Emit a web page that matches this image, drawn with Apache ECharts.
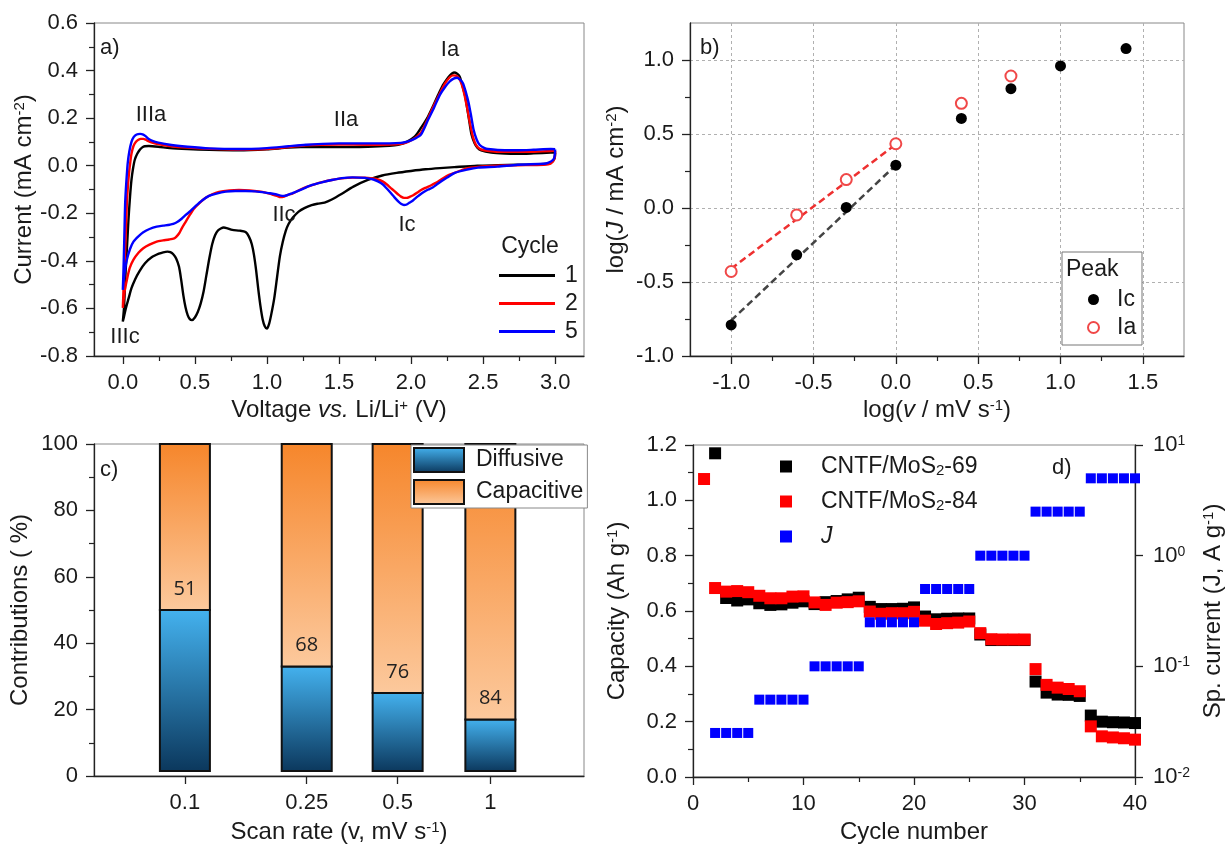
<!DOCTYPE html>
<html><head><meta charset="utf-8">
<script src="https://cdn.jsdelivr.net/npm/echarts@6/dist/echarts.min.js"></script>
<style>html,body{margin:0;padding:0;background:#fff}#c{width:1226px;height:845px}</style>
</head><body><div id="c"></div>
<script>
// ---------- Panel a: cyclic voltammograms (cathodic 3.0 -> 0 V, then anodic 0 -> 3.0 V) ----------
const cyc1V = [3.0,2.995,2.97,2.9,2.74,2.6,2.46,2.3,2.2,2.1,2.0,1.9,1.8,1.7,1.6,1.52,1.45,1.4,1.35,1.31,1.26,1.22,1.18,1.15,1.13,1.11,1.09,1.07,1.05,1.03,1.015,1.0,0.985,0.97,0.955,0.94,0.925,0.91,0.895,0.875,0.852,0.81,0.76,0.72,0.7,0.68,0.66,0.64,0.62,0.6,0.58,0.56,0.54,0.52,0.5,0.48,0.465,0.45,0.435,0.42,0.405,0.39,0.37,0.35,0.33,0.31,0.28,0.25,0.2,0.154,0.116,0.085,0.06,0.04,0.02,0.006,0.0,
  0.008,0.014,0.02,0.03,0.039,0.05,0.06,0.07,0.083,0.1,0.118,0.135,0.152,0.18,0.246,0.326,0.45,0.6,0.8,1.0,1.15,1.3,1.5,1.7,1.85,1.91,1.97,2.027,2.07,2.118,2.16,2.188,2.22,2.245,2.27,2.298,2.32,2.337,2.355,2.376,2.39,2.406,2.42,2.44,2.46,2.487,2.556,2.65,2.74,2.85,2.97,3.0];
const cyc1I = [0.055,0.03,0.012,0.006,0.004,0.002,0.0,-0.006,-0.01,-0.015,-0.022,-0.03,-0.041,-0.06,-0.088,-0.118,-0.142,-0.155,-0.16,-0.166,-0.178,-0.193,-0.218,-0.245,-0.275,-0.32,-0.38,-0.47,-0.56,-0.625,-0.665,-0.685,-0.675,-0.645,-0.59,-0.52,-0.44,-0.375,-0.33,-0.298,-0.279,-0.273,-0.27,-0.262,-0.26,-0.264,-0.272,-0.292,-0.33,-0.39,-0.46,-0.53,-0.58,-0.615,-0.638,-0.649,-0.645,-0.628,-0.595,-0.545,-0.48,-0.425,-0.39,-0.372,-0.363,-0.361,-0.364,-0.37,-0.385,-0.41,-0.443,-0.478,-0.515,-0.558,-0.602,-0.64,-0.655,
  -0.6,-0.52,-0.438,-0.33,-0.228,-0.13,-0.06,-0.015,0.025,0.05,0.067,0.077,0.082,0.083,0.08,0.074,0.07,0.067,0.065,0.069,0.076,0.079,0.078,0.08,0.084,0.088,0.1,0.123,0.16,0.207,0.26,0.298,0.338,0.361,0.38,0.392,0.387,0.375,0.34,0.291,0.24,0.179,0.13,0.095,0.076,0.064,0.055,0.051,0.05,0.052,0.055,0.056];

const cyc2V = [3.0,2.995,2.97,2.92,2.74,2.6,2.464,2.38,2.303,2.25,2.188,2.137,2.1,2.07,2.044,2.015,1.99,1.97,1.951,1.93,1.911,1.885,1.858,1.83,1.805,1.77,1.739,1.68,1.594,1.52,1.45,1.39,1.335,1.27,1.222,1.18,1.14,1.113,1.094,1.07,1.036,0.99,0.944,0.88,0.806,0.74,0.667,0.62,0.575,0.535,0.495,0.465,0.437,0.41,0.391,0.372,0.357,0.322,0.28,0.235,0.185,0.142,0.11,0.074,0.048,0.028,0.012,0.0,
  0.006,0.012,0.016,0.022,0.028,0.036,0.044,0.051,0.06,0.074,0.09,0.108,0.125,0.142,0.16,0.177,0.21,0.246,0.326,0.45,0.6,0.8,1.0,1.15,1.27,1.5,1.7,1.85,1.93,1.98,2.03,2.07,2.118,2.16,2.2,2.235,2.265,2.29,2.31,2.33,2.35,2.37,2.39,2.41,2.43,2.45,2.48,2.53,2.65,2.74,2.85,2.97,3.0];
const cyc2I = [0.062,0.03,0.01,0.004,0.002,0.0,-0.005,-0.012,-0.03,-0.042,-0.067,-0.083,-0.093,-0.102,-0.113,-0.124,-0.131,-0.135,-0.135,-0.13,-0.121,-0.107,-0.093,-0.078,-0.067,-0.058,-0.054,-0.05,-0.05,-0.053,-0.06,-0.068,-0.077,-0.09,-0.103,-0.116,-0.124,-0.131,-0.132,-0.127,-0.121,-0.113,-0.108,-0.104,-0.102,-0.104,-0.11,-0.12,-0.135,-0.155,-0.18,-0.207,-0.235,-0.262,-0.284,-0.298,-0.305,-0.31,-0.314,-0.319,-0.332,-0.347,-0.365,-0.395,-0.43,-0.48,-0.53,-0.598,
  -0.5,-0.41,-0.36,-0.26,-0.158,-0.08,-0.025,0.011,0.05,0.083,0.1,0.109,0.113,0.113,0.109,0.103,0.096,0.091,0.083,0.076,0.071,0.068,0.07,0.078,0.086,0.089,0.088,0.089,0.092,0.1,0.118,0.14,0.2,0.255,0.305,0.345,0.37,0.38,0.379,0.37,0.345,0.3,0.24,0.175,0.12,0.088,0.07,0.063,0.058,0.058,0.059,0.062,0.063];

const cyc5V = [3.0,2.996,2.986,2.95,2.92,2.74,2.6,2.464,2.39,2.303,2.25,2.188,2.15,2.12,2.097,2.07,2.044,2.015,1.99,1.97,1.951,1.93,1.911,1.885,1.858,1.83,1.805,1.77,1.739,1.68,1.594,1.52,1.45,1.38,1.313,1.25,1.2,1.175,1.145,1.117,1.095,1.06,1.02,0.99,0.92,0.852,0.78,0.713,0.65,0.598,0.55,0.506,0.47,0.437,0.41,0.38,0.35,0.326,0.28,0.235,0.185,0.142,0.11,0.074,0.05,0.028,0.012,0.0,
  0.004,0.008,0.012,0.016,0.022,0.028,0.034,0.045,0.06,0.075,0.096,0.12,0.142,0.16,0.177,0.21,0.246,0.326,0.45,0.6,0.8,1.0,1.15,1.27,1.5,1.7,1.85,1.93,1.98,2.03,2.07,2.118,2.16,2.2,2.235,2.268,2.295,2.32,2.34,2.36,2.38,2.4,2.418,2.434,2.455,2.475,2.51,2.533,2.65,2.74,2.85,2.97,3.0];
const cyc5I = [0.068,0.04,0.025,0.012,0.008,0.004,-0.004,-0.008,-0.016,-0.03,-0.05,-0.075,-0.092,-0.1,-0.107,-0.118,-0.13,-0.145,-0.155,-0.163,-0.165,-0.16,-0.15,-0.133,-0.114,-0.095,-0.079,-0.066,-0.058,-0.051,-0.049,-0.052,-0.06,-0.07,-0.081,-0.097,-0.11,-0.116,-0.123,-0.127,-0.126,-0.12,-0.116,-0.113,-0.108,-0.106,-0.106,-0.109,-0.117,-0.127,-0.146,-0.169,-0.19,-0.207,-0.222,-0.236,-0.245,-0.248,-0.252,-0.256,-0.266,-0.28,-0.296,-0.319,-0.35,-0.395,-0.45,-0.522,
  -0.45,-0.36,-0.26,-0.16,-0.09,-0.035,0.011,0.06,0.1,0.12,0.131,0.134,0.131,0.123,0.113,0.103,0.097,0.088,0.08,0.073,0.07,0.074,0.082,0.088,0.094,0.094,0.094,0.096,0.102,0.115,0.132,0.193,0.245,0.298,0.33,0.354,0.366,0.37,0.362,0.347,0.31,0.263,0.205,0.151,0.11,0.088,0.074,0.07,0.065,0.065,0.067,0.07,0.069];

const aXTicks = [0,0.5,1.0,1.5,2.0,2.5,3.0];
const aXMinor = [0.25,0.75,1.25,1.75,2.25,2.75];
const aYTicks = [-0.8,-0.6,-0.4,-0.2,0,0.2,0.4,0.6];
const aYMinor = [-0.7,-0.5,-0.3,-0.1,0.1,0.3,0.5];

// ---------- Panel b: log J vs log v ----------
const logScan = [-1.0,-0.602,-0.301,0.0,0.398,0.699,1.0,1.398];
const logJIc = [-0.79,-0.316,0.004,0.289,0.605,0.806,0.96,1.077];
const logJIa = [-0.429,-0.047,0.192,0.434,0.707,0.892];
const fitX = [-1.0,0.0];
const fitIcY = [-0.76,0.29];
const fitIaY = [-0.41,0.43];
const bXTicks = [-1.0,-0.5,0,0.5,1.0,1.5];
const bXMinor = [-0.75,-0.25,0.25,0.75,1.25];
const bYTicks = [-1.0,-0.5,0,0.5,1.0];
const bYMinor = [-0.75,-0.25,0.25,0.75];

// ---------- Panel c: contributions ----------
const scanLabels = ['0.1','0.25','0.5','1'];
const scanPos = [1,2.34,3.34,4.36];
const barBase = [1.5,1.5,1.5,1.5];
const diffusiveTop = [50,33,25,17];
const barTop = [100,100,100,100];
const capacitivePct = [51,68,76,84];
const cYTicks = [0,20,40,60,80,100];
const cYMinor = [10,30,50,70,90];

// ---------- Panel d: rate capability ----------
const cycleNo = [1,2,3,4,5,6,7,8,9,10,11,12,13,14,15,16,17,18,19,20,21,22,23,24,25,26,27,28,29,30,31,32,33,34,35,36,37,38,39,40];
const cap69 = [null,1.17,0.647,0.638,0.642,0.628,0.622,0.624,0.63,0.635,0.625,0.632,0.636,0.642,0.648,0.615,0.607,0.607,0.608,0.613,0.58,0.57,0.572,0.573,0.573,0.515,0.495,0.495,0.495,0.495,0.345,0.305,0.298,0.297,0.293,0.222,0.2,0.198,0.197,0.195];
const cap84 = [1.077,0.683,0.67,0.672,0.668,0.655,0.646,0.646,0.652,0.653,0.631,0.622,0.63,0.632,0.635,0.598,0.59,0.592,0.592,0.597,0.565,0.553,0.556,0.558,0.562,0.52,0.498,0.497,0.497,0.497,0.39,0.333,0.323,0.318,0.31,0.183,0.147,0.143,0.14,0.135];
const spCurrent = [null,0.025,0.025,0.025,0.025,0.05,0.05,0.05,0.05,0.05,0.1,0.1,0.1,0.1,0.1,0.25,0.25,0.25,0.25,0.25,0.5,0.5,0.5,0.5,0.5,1,1,1,1,1,2.5,2.5,2.5,2.5,2.5,5,5,5,5,5];
const dXTicks = [0,10,20,30,40];
const dXMinor = [5,15,25,35];
const dYTicks = [0,0.2,0.4,0.6,0.8,1.0,1.2];
const dYMinor = [0.1,0.3,0.5,0.7,0.9,1.1];

// ---------- helpers ----------
const FONT = '"Liberation Sans", Arial, sans-serif';
const TXT = '#1a1a1a';
const RICH = {
  sup: {fontFamily: FONT, fontSize: 15, verticalAlign: 'top', lineHeight: 15, color: TXT},
  it: {fontFamily: FONT, fontSize: 24, fontStyle: 'italic', color: TXT},
  sub: {fontFamily: FONT, fontSize: 15, verticalAlign: 'bottom', lineHeight: 15, color: TXT}
};
const pairs = (xs, ys) => xs.map((x, i) => [x, ys[i]]).filter(p => p[1] !== null);

function major(o) {
  return {
    type: o.type || 'value', gridIndex: o.grid, position: o.pos, min: o.min, max: o.max,
    name: o.name || '', nameLocation: 'middle', nameGap: o.nameGap || 40,
    nameTextStyle: {fontFamily: FONT, fontSize: 24, color: TXT, rich: RICH},
    axisLine: {show: true, onZero: false, lineStyle: {color: '#222', width: 1.3}},
    axisTick: {show: true, length: 8, customValues: o.ticks, lineStyle: {color: '#222', width: 1.3}},
    axisLabel: {show: true, customValues: o.ticks, formatter: o.fmt, fontFamily: FONT, fontSize: 22,
      color: TXT, margin: o.margin || 16, rich: o.rich},
    splitLine: o.split ? {show: true, lineStyle: {color: '#b0b0b0', type: [3, 3], width: 1}} : {show: false},
    minorTick: {show: false}
  };
}
function minor(o) {
  return {
    type: 'value', gridIndex: o.grid, position: o.pos, min: o.min, max: o.max,
    axisLine: {show: false, onZero: false},
    axisTick: {show: true, length: 5, customValues: o.ticks, lineStyle: {color: '#222', width: 1.2}},
    axisLabel: {show: false}, splitLine: {show: false}
  };
}
const f1 = v => Number(v).toFixed(1);
const f0 = v => String(Math.round(v));

const gridStyle = {show: true, borderColor: '#888', borderWidth: 1, backgroundColor: 'transparent'};

const diffGrad = new echarts.graphic.LinearGradient(0, 0, 0, 1, [
  {offset: 0, color: '#44b2ef'}, {offset: 1, color: '#0b375c'}]);
const capGrad = new echarts.graphic.LinearGradient(0, 0, 0, 1, [
  {offset: 0, color: '#f6862b'}, {offset: 1, color: '#fcc99d'}]);

// stacked-segment bar drawn through the axis scales (value x axis with uneven positions)
function segmentBar(grad, labels) {
  return function (params, api) {
    const x = api.value(0), lo = api.value(1), hi = api.value(2);
    const pLo = api.coord([x, lo]), pHi = api.coord([x, hi]);
    const w = 50;
    const children = [{
      type: 'rect', shape: {x: pLo[0] - w / 2, y: pHi[1], width: w, height: pLo[1] - pHi[1]},
      style: {fill: grad, stroke: '#111', lineWidth: 2}
    }];
    if (labels) {
      children.push({type: 'text', style: {text: String(labels[params.dataIndex]), x: pLo[0], y: pLo[1] - 21,
        align: 'center', verticalAlign: 'middle', fontFamily: '"Open Sans", sans-serif', fontSize: 20, fill: '#222'}});
    }
    return {type: 'group', children};
  };
}

const txt = (text, x, y, align, size, extra) => ({
  type: 'text', z: 10, style: Object.assign({text, x, y, align: align || 'center', verticalAlign: 'middle',
    fontFamily: FONT, fontSize: size || 22, fill: TXT}, extra || {})
});

const option = {
  animation: false,
  backgroundColor: '#fff',
  grid: [
    Object.assign({left: 94, top: 23, width: 490, height: 333}, gridStyle),
    Object.assign({left: 690, top: 23, width: 494, height: 333}, gridStyle),
    Object.assign({left: 94, top: 444, width: 490, height: 333}, gridStyle),
    Object.assign({left: 693, top: 445, width: 442, height: 332}, gridStyle)
  ],
  xAxis: [
    major({grid: 0, pos: 'bottom', min: -0.2, max: 3.2, ticks: aXTicks, fmt: f1,
      name: 'Voltage {it|vs.} Li/Li{sup|+} (V)', nameGap: 42}),
    minor({grid: 0, pos: 'bottom', min: -0.2, max: 3.2, ticks: aXMinor}),
    major({grid: 1, pos: 'bottom', min: -1.25, max: 1.75, ticks: bXTicks, fmt: f1, split: true,
      name: 'log({it|v} / mV s{sup|-1})', nameGap: 42}),
    minor({grid: 1, pos: 'bottom', min: -1.25, max: 1.75, ticks: bXMinor}),
    major({grid: 2, pos: 'bottom', min: 0, max: 5.39, ticks: scanPos,
      fmt: v => scanLabels[scanPos.indexOf(v)], name: 'Scan rate (v, mV s{sup|-1})', nameGap: 44}),
    major({grid: 3, pos: 'bottom', min: 0, max: 40, ticks: dXTicks, fmt: f0, name: 'Cycle number', nameGap: 43}),
    minor({grid: 3, pos: 'bottom', min: 0, max: 40, ticks: dXMinor})
  ],
  yAxis: [
    major({grid: 0, pos: 'left', min: -0.8, max: 0.6, ticks: aYTicks, fmt: f1,
      name: 'Current (mA cm{sup|-2})', nameGap: 56}),
    minor({grid: 0, pos: 'left', min: -0.8, max: 0.6, ticks: aYMinor}),
    major({grid: 1, pos: 'left', min: -1.0, max: 1.25, ticks: bYTicks, fmt: f1, split: true,
      name: 'log({it|J} / mA cm{sup|-2})', nameGap: 62}),
    minor({grid: 1, pos: 'left', min: -1.0, max: 1.25, ticks: bYMinor}),
    major({grid: 2, pos: 'left', min: 0, max: 100, ticks: cYTicks, fmt: f0,
      name: 'Contributions ( %)', nameGap: 62}),
    minor({grid: 2, pos: 'left', min: 0, max: 100, ticks: cYMinor}),
    major({grid: 3, pos: 'left', min: 0, max: 1.2, ticks: dYTicks, fmt: f1,
      name: 'Capacity (Ah g{sup|-1})', nameGap: 64}),
    minor({grid: 3, pos: 'left', min: 0, max: 1.2, ticks: dYMinor}),
    {
      type: 'log', logBase: 10, gridIndex: 3, position: 'right', min: 0.01, max: 10,
      name: 'Sp. current (J, A g{sup|-1})', nameLocation: 'middle', nameGap: 66,
      nameTextStyle: {fontFamily: FONT, fontSize: 24, color: TXT, rich: RICH},
      axisLine: {show: true, onZero: false, lineStyle: {color: '#222', width: 1.3}},
      axisTick: {show: true, length: 8, lineStyle: {color: '#222', width: 1.3}},
      axisLabel: {fontFamily: FONT, fontSize: 22, color: TXT, margin: 18,
        formatter: v => '10{sup|' + Math.round(Math.log10(v)) + '}',
        rich: {sup: {fontFamily: FONT, fontSize: 14, verticalAlign: 'top', lineHeight: 14, color: TXT}}},
      splitLine: {show: false}, minorTick: {show: false}
    }
  ],
  legend: [
    {left: 499, top: 264, orient: 'vertical', data: ['1', '2', '5'], icon: 'rect', itemWidth: 56, itemHeight: 3,
      itemGap: 5, padding: 0, selectedMode: false,
      textStyle: {fontFamily: FONT, fontSize: 23, color: TXT, padding: [0, 0, 0, 5]}},
    {left: 1087, top: 288, orient: 'vertical', data: ['Ic', 'Ia'], itemWidth: 11, itemHeight: 11, itemGap: 5,
      padding: 0, selectedMode: false, z: 12, textStyle: {fontFamily: FONT, fontSize: 23, color: TXT, padding: [0, 0, 0, 13]}},
    {left: 411, top: 445, orient: 'vertical', data: ['Diffusive', 'Capacitive'], itemWidth: 50, itemHeight: 24, itemGap: 6,
      padding: [2, 4, 3, 2], backgroundColor: '#fff', borderColor: '#888', borderWidth: 1, selectedMode: false,
      icon: 'rect', itemStyle: {borderColor: '#111', borderWidth: 2},
      textStyle: {fontFamily: FONT, fontSize: 23, color: TXT, padding: [0, 0, 0, 7]}},
    {left: 780, top: 455, orient: 'vertical', data: ['CNTF/MoS2-69', 'CNTF/MoS2-84', 'J'], itemWidth: 12, itemHeight: 12,
      itemGap: 12, padding: 0, selectedMode: false,
      formatter: n => n === 'J' ? '{it|J}' : n.replace('MoS2', 'MoS{sub|2}'),
      textStyle: {fontFamily: FONT, fontSize: 23, color: TXT, padding: [0, 0, 0, 24],
        rich: {it: {fontFamily: FONT, fontSize: 23, fontStyle: 'italic', color: TXT},
               sub: {fontFamily: FONT, fontSize: 15, verticalAlign: 'bottom', lineHeight: 15, color: TXT}}}}
  ],
  series: [
    // panel a
    {name: '1', type: 'line', xAxisIndex: 0, yAxisIndex: 0, data: pairs(cyc1V, cyc1I), symbol: 'none', smooth: 0.25,
      lineStyle: {color: '#000', width: 2.4}, itemStyle: {color: '#000'}, z: 3},
    {name: '2', type: 'line', xAxisIndex: 0, yAxisIndex: 0, data: pairs(cyc2V, cyc2I), symbol: 'none', smooth: 0.25,
      lineStyle: {color: '#ff0000', width: 2.4}, itemStyle: {color: '#ff0000'}, z: 4},
    {name: '5', type: 'line', xAxisIndex: 0, yAxisIndex: 0, data: pairs(cyc5V, cyc5I), symbol: 'none', smooth: 0.25,
      lineStyle: {color: '#0000ff', width: 2.4}, itemStyle: {color: '#0000ff'}, z: 5},
    // panel b
    {name: 'fitIc', type: 'line', xAxisIndex: 2, yAxisIndex: 2, data: pairs(fitX, fitIcY), symbol: 'none',
      lineStyle: {color: '#444', width: 2.5, type: [7, 4]}, z: 2},
    {name: 'fitIa', type: 'line', xAxisIndex: 2, yAxisIndex: 2, data: pairs(fitX, fitIaY), symbol: 'none',
      lineStyle: {color: '#ee3030', width: 2.5, type: [7, 4]}, z: 2},
    {name: 'Ic', type: 'scatter', xAxisIndex: 2, yAxisIndex: 2, data: pairs(logScan, logJIc), symbol: 'circle',
      symbolSize: 11, itemStyle: {color: '#000', opacity: 1}, z: 4},
    {name: 'Ia', type: 'scatter', xAxisIndex: 2, yAxisIndex: 2, data: pairs(logScan.slice(0, logJIa.length), logJIa),
      symbol: 'emptyCircle', symbolSize: 11, itemStyle: {color: '#f04848', borderWidth: 1.5, opacity: 1}, z: 5},
    // panel c
    {name: 'Diffusive', type: 'custom', xAxisIndex: 4, yAxisIndex: 4, encode: {x: 0, y: [1, 2]},
      data: scanPos.map((p, i) => [p, barBase[i], diffusiveTop[i]]), itemStyle: {color: diffGrad},
      renderItem: segmentBar(diffGrad, null)},
    {name: 'Capacitive', type: 'custom', xAxisIndex: 4, yAxisIndex: 4, encode: {x: 0, y: [1, 2]},
      data: scanPos.map((p, i) => [p, diffusiveTop[i], barTop[i]]), itemStyle: {color: capGrad},
      renderItem: segmentBar(capGrad, capacitivePct)},
    // panel d
    {name: 'CNTF/MoS2-69', type: 'scatter', xAxisIndex: 5, yAxisIndex: 6, data: pairs(cycleNo, cap69),
      symbol: 'rect', symbolSize: 12, itemStyle: {color: '#000', opacity: 1}, z: 3},
    {name: 'CNTF/MoS2-84', type: 'scatter', xAxisIndex: 5, yAxisIndex: 6, data: pairs(cycleNo, cap84),
      symbol: 'rect', symbolSize: 12, itemStyle: {color: '#ff0000', opacity: 1}, z: 4},
    {name: 'J', type: 'scatter', xAxisIndex: 5, yAxisIndex: 8, data: pairs(cycleNo, spCurrent),
      symbol: 'rect', symbolSize: 10, itemStyle: {color: '#0000ff', opacity: 1}, z: 5}
  ],
  graphic: [
    txt('a)', 100, 48, 'left'), txt('b)', 700, 48, 'left'), txt('c)', 100, 470, 'left'), txt('d)', 1052, 468, 'left'),
    txt('IIIa', 151, 115), txt('IIa', 346, 120), txt('Ia', 450, 50),
    txt('IIc', 284, 215), txt('Ic', 407, 225), txt('IIIc', 125, 337),
    txt('Cycle', 530, 247, 'center', 23),
    {type: 'rect', z: 8, shape: {x: 1062, y: 252, width: 80, height: 93}, style: {fill: '#fff', stroke: '#777', lineWidth: 1}},
    txt('Peak', 1066, 270, 'left', 23, {})
  ]
};
option.graphic[option.graphic.length - 1].z = 11;

const chart = echarts.init(document.getElementById('c'), null, {renderer: 'canvas'});
chart.setOption(option);
</script></body></html>
